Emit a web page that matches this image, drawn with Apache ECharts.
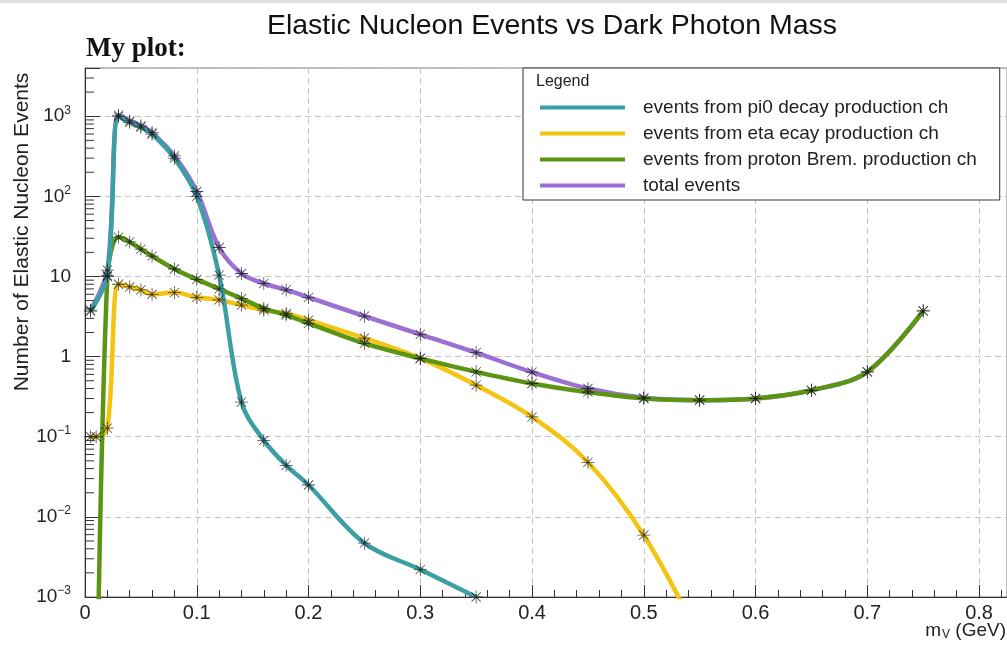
<!DOCTYPE html>
<html>
<head>
<meta charset="utf-8">
<title>Elastic Nucleon Events vs Dark Photon Mass</title>
<script src="https://cdn.jsdelivr.net/npm/echarts@6/dist/echarts.min.js"></script>
<style>
  html, body { margin: 0; padding: 0; background: #fff; }
  #chart { width: 1007px; height: 645px; }
</style>
</head>
<body>
<div id="chart"></div>
<script>
// Dark photon mass points (GeV) and elastic nucleon event counts per production channel
const massPi0 = [0.005, 0.02, 0.03, 0.04, 0.05, 0.06, 0.08, 0.1, 0.12, 0.14, 0.16, 0.18, 0.2, 0.25, 0.3, 0.35];
const eventsPi0 = [3.7, 10.3, 990, 840, 730, 600, 300, 100, 10.4, 0.27, 0.09, 0.044, 0.025, 0.0047, 0.0022, 0.001];

const massEta = [0.005, 0.01, 0.02, 0.03, 0.04, 0.05, 0.06, 0.08, 0.1, 0.12, 0.14, 0.16, 0.18, 0.2, 0.25, 0.3, 0.35, 0.4, 0.45, 0.5, 0.55];
const eventsEta = [0.1, 0.1, 0.128, 8.0, 7.4, 6.8, 6.0, 6.3, 5.5, 5.1, 4.4, 3.8, 3.45, 2.85, 1.7, 0.95, 0.44, 0.177, 0.048, 0.0059, 0.0003];

const massBrem = [0.01, 0.02, 0.03, 0.04, 0.05, 0.06, 0.08, 0.1, 0.12, 0.14, 0.16, 0.18, 0.2, 0.25, 0.3, 0.35, 0.4, 0.45, 0.5, 0.55, 0.6, 0.65, 0.7, 0.75];
const eventsBrem = [0.00001, 10, 31, 27, 22, 18, 12.4, 9.2, 7.0, 5.3, 4.0, 3.3, 2.6, 1.46, 0.95, 0.646, 0.462, 0.36, 0.30, 0.286, 0.30, 0.38, 0.646, 3.73];

const massTotal = [0.005, 0.02, 0.03, 0.04, 0.05, 0.06, 0.08, 0.1, 0.12, 0.14, 0.16, 0.18, 0.2, 0.25, 0.3, 0.35, 0.4, 0.45, 0.5, 0.55, 0.6, 0.65, 0.7, 0.75];
const eventsTotal = [3.8, 12, 1030, 875, 760, 625, 320, 115, 23, 10.9, 8.2, 6.8, 5.5, 3.2, 1.9, 1.12, 0.64, 0.40, 0.306, 0.286, 0.30, 0.38, 0.646, 3.73];

const seriesNames = [
  'events from pi0 decay production ch',
  'events from eta ecay production ch',
  'events from proton Brem. production ch',
  'total events'
];

const titleText = 'Elastic Nucleon Events vs Dark Photon Mass';
const subTitleText = 'My plot:';
const yAxisTitle = 'Number of Elastic Nucleon Events';

// axis ranges
const xMin = 0, xMax = 0.825, xStep = 0.1;
const yMin = 0.001, yMax = 4000;

const pairs = (xs, ys) => xs.map((x, i) => [x, ys[i]]);

// eight-armed asterisk marker
const asterisk = 'path://' +
  'M9.4,0 L10.6,0 L10.6,20 L9.4,20 Z ' +
  'M0,9.4 L20,9.4 L20,10.6 L0,10.6 Z ' +
  'M3.32,2.48 L17.52,16.68 L16.68,17.52 L2.48,3.32 Z ' +
  'M17.52,3.32 L3.32,17.52 L2.48,16.68 L16.68,2.48 Z';

// short inner ticks at 2..9 x 10^k on the log axis
const minorY = [];
for (let k = -3; k <= 3; k++) {
  for (let m = 2; m <= 9; m++) {
    const v = m * Math.pow(10, k);
    if (v < yMax) minorY.push([xMin, v]);
  }
}

const FONT = 'Liberation Sans, Arial, sans-serif';

const lineSpecs = [
  // drawn bottom to top
  { name: seriesNames[3], data: pairs(massTotal, eventsTotal), color: '#9b70d2' },
  { name: seriesNames[1], data: pairs(massEta, eventsEta), color: '#f4c412' },
  { name: seriesNames[2], data: pairs(massBrem, eventsBrem), color: '#5b9513' },
  { name: seriesNames[0], data: pairs(massPi0, eventsPi0), color: '#3c9fa4' }
];

const series = [];
lineSpecs.forEach(s => {
  series.push({
    name: s.name,
    type: 'line',
    data: s.data,
    smooth: 0.35,
    symbol: 'none',
    color: s.color,
    lineStyle: { width: 4.5, color: s.color },
    clip: true,
    silent: true,
    animation: false
  });
});
lineSpecs.forEach(s => {
  series.push({
    name: s.name + ' markers',
    type: 'scatter',
    data: s.data,
    symbol: asterisk,
    symbolSize: 13,
    itemStyle: { color: '#1c1c1c', opacity: 0.8 },
    clip: true,
    silent: true,
    animation: false,
    z: 5
  });
});
series.push({
  type: 'custom',
  name: 'minor ticks',
  data: minorY,
  encode: { x: 0, y: 1 },
  silent: true,
  animation: false,
  renderItem: (params, api) => {
    const p = api.coord([api.value(0), api.value(1)]);
    return {
      type: 'line',
      shape: { x1: p[0], y1: p[1], x2: p[0] + 9, y2: p[1] },
      style: { stroke: '#333', lineWidth: 1 }
    };
  },
  z: 6
});

const supDigits = e => (e < 0 ? '\u2212' : '') + Math.abs(e);

const option = {
  backgroundColor: '#fff',
  animation: false,
  textStyle: { fontFamily: FONT },
  title: [
    {
      text: titleText,
      left: 547,
      top: 7,
      textAlign: 'center',
      textStyle: { fontSize: 28.5, fontWeight: 'normal', color: '#111', fontFamily: FONT }
    },
    {
      text: subTitleText,
      left: 81,
      top: 31,
      textStyle: { fontSize: 27, fontWeight: 'bold', color: '#111', fontFamily: 'Liberation Serif, serif' }
    }
  ],
  legend: {
    data: seriesNames,
    orient: 'vertical',
    left: 523,
    top: 68,
    icon: 'rect',
    itemWidth: 85,
    itemHeight: 4,
    itemGap: 7,
    padding: [30, 23, 5, 17],
    backgroundColor: '#fff',
    borderColor: '#333',
    borderWidth: 1,
    borderRadius: 0,
    selectedMode: false,
    textStyle: { fontSize: 19, color: '#222', fontFamily: FONT, padding: [0, 0, 0, 13] },
    z: 10
  },
  grid: {
    left: 85, top: 68, right: 0, bottom: 48,
    show: true, borderColor: '#777', borderWidth: 1, backgroundColor: 'transparent'
  },
  xAxis: {
    type: 'value',
    min: xMin, max: xMax, interval: xStep,
    axisLine: { show: true, lineStyle: { color: '#333', width: 1 } },
    axisTick: { show: true, inside: true, length: 12, lineStyle: { color: '#333' } },
    minorTick: { show: true, splitNumber: 5, length: 7, lineStyle: { color: '#333' } },
    splitLine: { show: true, lineStyle: { color: '#c4c4c4', type: [6, 4], width: 1 } },
    axisLabel: {
      fontSize: 20, color: '#222', margin: 6, showMaxLabel: false,
      formatter: v => {
        const r = Math.round(v / xStep);
        if (Math.abs(v / xStep - r) > 1e-6) return '';
        return r === 0 ? '0' : (r * xStep).toFixed(1);
      }
    }
  },
  yAxis: {
    type: 'log', logBase: 10,
    min: yMin, max: yMax,
    axisLine: { show: true, lineStyle: { color: '#333', width: 1 } },
    axisTick: { show: true, inside: true, length: 15, lineStyle: { color: '#333' } },
    splitLine: { show: true, lineStyle: { color: '#c4c4c4', type: [6, 4], width: 1 } },
    axisLabel: {
      fontSize: 19, color: '#222', margin: 14,
      formatter: v => {
        const l = Math.log10(v);
        const e = Math.round(l);
        if (Math.abs(l - e) > 1e-6) return '';
        if (e === 0) return '1';
        if (e === 1) return '10';
        return '10{sup|' + supDigits(e) + '}';
      },
      rich: {
        sup: { fontSize: 12, color: '#222', padding: [0, 0, 12, 0] }
      }
    }
  },
  graphic: [
    { type: 'rect', shape: { x: 0, y: 0, width: 1007, height: 3 }, style: { fill: '#dedede' }, silent: true },
    {
      type: 'text', x: 536, y: 74, z: 100,
      style: { text: 'Legend', fontSize: 16, fontFamily: FONT, fill: '#222' }
    },
    {
      type: 'text', x: 22, y: 232, rotation: Math.PI / 2, z: 100,
      style: { text: yAxisTitle, fontSize: 21, fontFamily: FONT, fill: '#222', align: 'center', verticalAlign: 'middle' }
    },
    {
      type: 'text', right: 1, top: 621, z: 100,
      style: {
        text: 'm{s|V} (GeV)', fontSize: 19, fontFamily: FONT, fill: '#222',
        rich: { s: { fontSize: 12, fontFamily: FONT, fill: '#222', padding: [9, 0, 0, 1] } }
      }
    }
  ],
  series: series
};

const chart = echarts.init(document.getElementById('chart'), null, { renderer: 'canvas' });
chart.setOption(option);
</script>
</body>
</html>
